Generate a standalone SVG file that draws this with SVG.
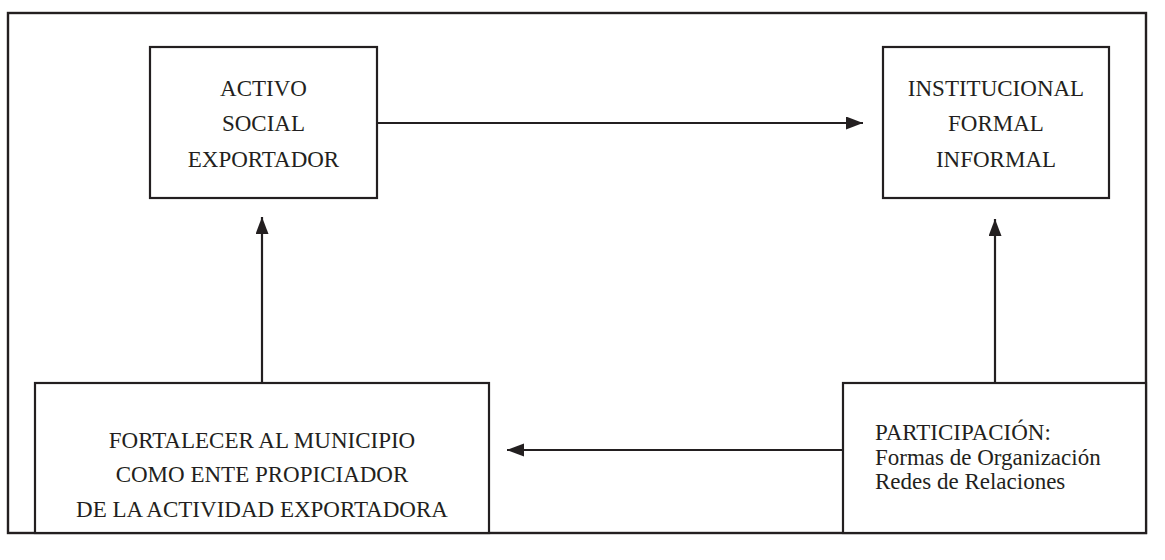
<svg xmlns="http://www.w3.org/2000/svg" width="1165" height="560" viewBox="0 0 1165 560">
<style>
.box{fill:#fff;stroke:#231f20;stroke-width:2.2}
.frame{fill:none;stroke:#231f20;stroke-width:2.4}
.t{font-family:"Liberation Serif","Times New Roman",serif;font-size:23px;fill:#231f20}
.c{text-anchor:middle}
.ln{stroke:#231f20;stroke-width:2.2;fill:none}
</style>
<defs>
<marker id="ah" markerUnits="userSpaceOnUse" markerWidth="18" markerHeight="14" refX="17" refY="6.5" orient="auto">
<path d="M0,0 L17,6.5 L0,13 Z" fill="#231f20"/>
</marker>
</defs>
<rect class="frame" x="8" y="13" width="1138" height="520"/>
<g id="connectors">
<line class="ln" x1="377" y1="123" x2="863" y2="123" marker-end="url(#ah)"/>
<line class="ln" x1="262" y1="383" x2="262" y2="217" marker-end="url(#ah)"/>
<line class="ln" x1="995" y1="383" x2="995" y2="219" marker-end="url(#ah)"/>
<line class="ln" x1="843" y1="450" x2="507" y2="450" marker-end="url(#ah)"/>
</g>
<g id="activo">
<rect class="box" x="150" y="47" width="227" height="151"/>
<text class="t c" x="263.5" y="96">ACTIVO</text>
<text class="t c" x="263.5" y="131">SOCIAL</text>
<text class="t c" x="263.5" y="167">EXPORTADOR</text>
</g>
<g id="institucional">
<rect class="box" x="883" y="47" width="226" height="151"/>
<text class="t c" x="996" y="96">INSTITUCIONAL</text>
<text class="t c" x="996" y="131">FORMAL</text>
<text class="t c" x="996" y="167">INFORMAL</text>
</g>
<g id="fortalecer">
<rect class="box" x="35" y="383" width="454" height="150"/>
<text class="t c" x="262" y="448">FORTALECER AL MUNICIPIO</text>
<text class="t c" x="262" y="482">COMO ENTE PROPICIADOR</text>
<text class="t c" x="262" y="517">DE LA ACTIVIDAD EXPORTADORA</text>
</g>
<g id="participacion">
<rect class="box" x="843" y="383" width="303" height="150"/>
<text class="t" x="875" y="440">PARTICIPACIÓN:</text>
<text class="t" x="875" y="465">Formas de Organización</text>
<text class="t" x="875" y="489">Redes de Relaciones</text>
</g>
</svg>
